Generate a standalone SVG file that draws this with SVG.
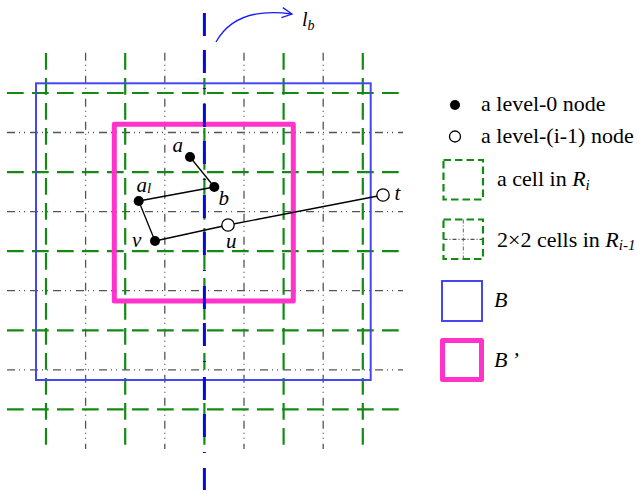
<svg xmlns="http://www.w3.org/2000/svg" width="637" height="494" viewBox="0 0 637 494">
<defs>
<style>
.g{stroke:#148a14;stroke-width:2.2;fill:none;stroke-dasharray:16.7 8.3}
.k{stroke:#555;stroke-width:1.3;fill:none;stroke-dasharray:8 4 1 4 1 5}
.e{stroke:#000;stroke-width:1.3;fill:none}
.fn{fill:#000}
.on{fill:#fff;stroke:#000;stroke-width:1.3}
.t{font-family:"Liberation Serif","Times New Roman",serif;font-size:22px;fill:#000}
.n{font-family:"Liberation Serif","Times New Roman",serif;font-size:21px;font-style:italic;fill:#000}
.i{font-style:italic}
.s{font-size:15px}
</style>
<marker id="chev" viewBox="0 0 12 12" refX="11" refY="6" markerWidth="12" markerHeight="12" markerUnits="userSpaceOnUse" orient="auto">
<path d="M1,1 L11,6 L1,11" fill="none" stroke="#1a1aff" stroke-width="1.3"/>
</marker>
</defs>
<rect width="637" height="494" fill="#fff"/>
<g id="grid">
<g id="grid-fine">
<line class="k" x1="7" y1="132.5" x2="403" y2="132.5"/>
<line class="k" x1="7" y1="211.6" x2="403" y2="211.6"/>
<line class="k" x1="7" y1="290.7" x2="403" y2="290.7"/>
<line class="k" x1="7" y1="369.8" x2="403" y2="369.8"/>
<line class="k" x1="85.6" y1="52.7" x2="85.6" y2="449"/>
<line class="k" x1="164.8" y1="52.7" x2="164.8" y2="449"/>
<line class="k" x1="244" y1="52.7" x2="244" y2="449"/>
<line class="k" x1="323.2" y1="52.7" x2="323.2" y2="449"/>
</g>
<g id="grid-coarse">
<line class="g" x1="7" y1="93" x2="400" y2="93"/>
<line class="g" x1="7" y1="172.1" x2="400" y2="172.1"/>
<line class="g" x1="7" y1="251.2" x2="400" y2="251.2"/>
<line class="g" x1="7" y1="330.3" x2="400" y2="330.3"/>
<line class="g" x1="7" y1="409.4" x2="400" y2="409.4"/>
<line class="g" x1="46" y1="53" x2="46" y2="446"/>
<line class="g" x1="125.2" y1="53" x2="125.2" y2="446"/>
<line class="g" x1="204.4" y1="53" x2="204.4" y2="446"/>
<line class="g" x1="283.6" y1="53" x2="283.6" y2="446"/>
<line class="g" x1="362.8" y1="53" x2="362.8" y2="446"/>
</g>
</g>
<g id="box-B">
<rect x="36" y="83.3" width="334.7" height="296.7" fill="none" stroke="#4646f0" stroke-width="2"/>
</g>
<g id="box-B2">
<rect x="114.3" y="124.3" width="179" height="176.7" fill="none" stroke="#ff33cc" stroke-width="5" stroke-linejoin="round"/>
</g>
<g id="line-lb">
<line x1="204.4" y1="13" x2="204.4" y2="490" stroke="#0a0ad8" stroke-width="3" stroke-dasharray="23 14 23 15 1 15"/>
<path d="M216,42 Q236,6 292,14" fill="none" stroke="#1a1aff" stroke-width="1.3" marker-end="url(#chev)"/>
<text class="n" x="302" y="26" style="font-size:20px">l<tspan style="font-size:14px" dy="4">b</tspan></text>
</g>
<g id="connectors">
<line class="e" x1="190" y1="157" x2="214.3" y2="187"/>
<line class="e" x1="138.7" y1="201" x2="214.3" y2="187"/>
<line class="e" x1="138.7" y1="201" x2="155" y2="241"/>
<line class="e" x1="155" y1="241" x2="228" y2="225"/>
<line class="e" x1="228" y1="225" x2="383" y2="195"/>
</g>
<g id="node-a"><circle class="fn" cx="190" cy="157" r="5"/><text class="n" x="172.5" y="152">a</text></g>
<g id="node-b"><circle class="fn" cx="214.3" cy="187" r="5"/><text class="n" x="218.5" y="205">b</text></g>
<g id="node-al"><circle class="fn" cx="138.7" cy="201" r="5"/><text class="n" x="136.5" y="192">a<tspan class="s" dy="1">l</tspan></text></g>
<g id="node-v"><circle class="fn" cx="155" cy="241" r="5"/><text class="n" x="132" y="247">v</text></g>
<g id="node-u"><circle class="on" cx="228" cy="225" r="6.2"/><text class="n" x="226" y="248">u</text></g>
<g id="node-t"><circle class="on" cx="383" cy="195" r="6.2"/><text class="n" x="394.5" y="200">t</text></g>
<g id="legend">
<g id="legend-level0"><circle class="fn" cx="455" cy="105" r="5"/><text class="t" x="481" y="110.5">a level-0 node</text></g>
<g id="legend-leveli"><circle class="on" cx="455" cy="136.5" r="5.5"/><text class="t" x="481" y="143">a level-(i-1) node</text></g>
<g id="legend-cell">
<rect x="443.5" y="160" width="39.5" height="39.5" fill="none" stroke="#148a14" stroke-width="2.2" stroke-dasharray="7.5 4"/>
<text class="t" x="497" y="186">a cell in <tspan class="i">R</tspan><tspan class="i s" dy="4">i</tspan></text>
</g>
<g id="legend-cells2">
<line x1="443.5" y1="239.3" x2="483" y2="239.3" stroke="#222" stroke-width="1" stroke-dasharray="4 2 1 2"/>
<line x1="463.3" y1="219.5" x2="463.3" y2="259" stroke="#666" stroke-width="1" stroke-dasharray="4 2 1 2"/>
<rect x="443.5" y="219.5" width="39.5" height="39.5" fill="none" stroke="#148a14" stroke-width="2.2" stroke-dasharray="7.5 4"/>
<text class="t" x="497" y="247.3">2×2 cells in <tspan class="i">R</tspan><tspan class="i s" dy="3">i-1</tspan></text>
</g>
<g id="legend-B">
<rect x="442" y="281" width="40" height="40" fill="none" stroke="#4646f0" stroke-width="2"/>
<text class="t i" x="494" y="306.7">B</text>
</g>
<g id="legend-B2">
<rect x="442.5" y="340.5" width="39" height="39" fill="none" stroke="#ff33cc" stroke-width="5" stroke-linejoin="round"/>
<text class="t i" x="494" y="366.7">B<tspan dx="4">’</tspan></text>
</g>
</g>
</svg>
